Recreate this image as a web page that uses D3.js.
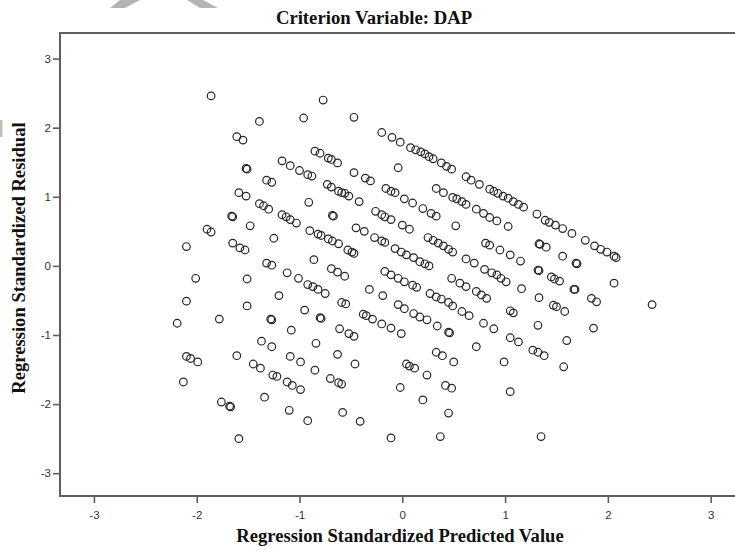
<!DOCTYPE html>
<html>
<head>
<meta charset="utf-8">
<script src="https://d3js.org/d3.v7.min.js"></script>
<style>
  html, body { margin: 0; padding: 0; background: #fff; }
  svg { display: block; }
</style>
</head>
<body>
<svg id="chart" width="735" height="552"></svg>
<script>
// ---- Data ----
const titleText = "Criterion Variable: DAP";
const xLabelText = "Regression Standardized Predicted Value";
const yLabelText = "Regression Standardized Residual";
const xTicks = [-3, -2, -1, 0, 1, 2, 3];
const yTicks = [-3, -2, -1, 0, 1, 2, 3];

const predicted = [
 -1.86,-1.39,-1.61,-1.55,-1.17,-1.09,-1.52,-1.51,-1.32,-1.27,-1.59,-1.52,-1.39,-1.35,-1.30,-1.17,-1.13,-1.09,-1.03,-1.66,
 -1.65,-1.48,-1.90,-1.86,-1.25,-2.10,-1.65,-1.58,-1.53,-1.32,-1.27,-1.12,-2.01,-1.51,-1.20,-2.10,-1.51,-2.19,-1.78,-1.28,
 -1.27,-1.08,-1.37,-1.27,-2.10,-2.06,-1.99,-1.61,-1.45,-1.38,-1.26,-1.22,-1.09,-1.12,-1.07,-2.13,-1.76,-1.68,-1.67,-1.34,
 -1.10,-1.59,
 -0.77,-0.96,-0.47,-0.20,-0.10,-0.02,0.08,-0.85,-0.80,-0.72,-0.69,-0.63,-0.04,-1.00,-0.92,-0.88,-0.47,-0.36,-0.31,-0.73,
 -0.69,-0.62,-0.59,-0.56,-0.52,-0.16,-0.11,-0.07,-0.42,-0.91,0.02,-0.68,-0.67,-0.26,-0.20,-0.17,-0.11,0.00,-0.45,-0.37,
 -0.90,-0.82,-0.79,-0.72,-0.68,-0.62,-0.27,-0.20,-0.17,0.07,-0.53,-0.49,-0.47,-0.07,-0.01,0.04,-0.86,-0.69,-0.63,-0.56,
 -1.01,-0.92,-0.87,-0.82,-0.75,-0.17,-0.11,-0.04,0.02,-0.32,-0.19,-0.59,-0.55,
 -0.95,-0.80,-0.79,-0.38,-0.35,-0.29,-0.20,-0.11,-0.01,-0.04,0.02,-0.61,-0.52,-0.47,-0.84,-0.99,-0.85,-0.63,-0.46,0.04,
 -0.99,-0.70,-0.62,-0.59,-0.02,-0.92,-0.58,-0.41,-0.11,
 0.13,0.18,0.22,0.26,0.30,0.38,0.43,0.48,0.62,0.67,0.75,0.85,0.89,0.93,0.98,1.03,1.08,1.13,1.18,0.33,
 0.40,0.49,0.53,0.58,0.62,0.10,0.20,0.28,0.33,0.72,0.79,0.85,0.92,1.03,0.52,0.25,0.30,0.35,0.40,0.45,
 0.49,0.81,0.85,0.95,1.05,1.15,0.11,0.17,0.22,0.26,0.62,0.70,0.80,0.87,0.92,0.96,1.01,1.16,0.10,0.14,
 0.48,0.56,0.62,0.72,0.77,0.82,0.27,0.33,0.38,0.45,0.49,
 0.11,0.17,0.24,0.58,0.65,0.79,0.89,1.05,1.08,1.05,1.13,0.34,0.45,0.46,0.72,0.33,0.39,0.50,0.99,0.07,
 0.12,0.24,0.42,0.48,1.05,0.20,0.45,0.37,
 1.31,1.39,1.43,1.49,1.56,1.65,1.78,1.87,1.93,1.99,2.06,2.08,1.33,1.34,1.40,1.56,1.69,1.70,1.32,1.33,
 1.45,1.48,1.53,2.06,1.67,1.68,1.33,1.47,1.50,1.58,1.84,1.89,2.43,1.32,1.86,1.60,1.27,1.32,1.38,1.57,
 1.35
];

const residual = [
 2.46,2.09,1.87,1.82,1.52,1.45,1.41,1.40,1.24,1.21,1.06,1.01,0.90,0.87,0.82,0.74,0.71,0.67,0.62,0.72,
 0.71,0.58,0.53,0.49,0.40,0.28,0.33,0.26,0.23,0.04,0.01,-0.10,-0.18,-0.19,-0.43,-0.51,-0.58,-0.83,-0.77,-0.77,
 -0.78,-0.93,-1.09,-1.17,-1.31,-1.34,-1.39,-1.30,-1.42,-1.48,-1.58,-1.60,-1.31,-1.68,-1.73,-1.68,-1.97,-2.03,-2.04,-1.90,
 -2.09,-2.50,
 2.40,2.14,2.15,1.93,1.86,1.79,1.71,1.66,1.63,1.56,1.54,1.49,1.42,1.38,1.32,1.30,1.35,1.27,1.23,1.18,
 1.14,1.08,1.06,1.05,1.01,1.12,1.08,1.06,0.93,0.92,0.97,0.73,0.72,0.79,0.74,0.71,0.67,0.59,0.55,0.50,
 0.51,0.46,0.44,0.39,0.36,0.32,0.41,0.36,0.34,0.53,0.23,0.20,0.18,0.25,0.20,0.16,0.09,-0.04,-0.09,-0.15,
 -0.18,-0.27,-0.30,-0.34,-0.40,-0.08,-0.13,-0.18,-0.23,-0.34,-0.43,-0.53,-0.55,
 -0.64,-0.75,-0.76,-0.70,-0.72,-0.77,-0.84,-0.90,-0.98,-0.56,-0.62,-0.91,-0.98,-1.02,-1.12,-1.39,-1.51,-1.28,-1.42,-1.42,
 -1.79,-1.63,-1.69,-1.71,-1.76,-2.24,-2.12,-2.25,-2.49,
 1.68,1.65,1.62,1.58,1.55,1.49,1.44,1.40,1.29,1.24,1.18,1.11,1.08,1.05,1.01,0.98,0.93,0.89,0.85,1.12,
 1.06,0.99,0.97,0.93,0.89,0.91,0.83,0.76,0.72,0.82,0.76,0.70,0.65,0.57,0.58,0.41,0.37,0.33,0.29,0.24,
 0.20,0.33,0.30,0.23,0.16,0.07,0.12,0.06,0.03,0.00,0.10,0.04,-0.05,-0.10,-0.13,-0.18,-0.23,-0.33,-0.28,-0.31,
 -0.18,-0.25,-0.30,-0.37,-0.42,-0.47,-0.40,-0.45,-0.48,-0.53,-0.58,
 -0.69,-0.74,-0.78,-0.66,-0.72,-0.83,-0.91,-0.65,-0.68,-1.04,-1.10,-0.87,-0.96,-0.97,-1.17,-1.25,-1.30,-1.39,-1.39,-1.45,
 -1.48,-1.58,-1.73,-1.77,-1.82,-1.94,-2.13,-2.47,
 0.75,0.66,0.63,0.59,0.54,0.47,0.37,0.29,0.24,0.20,0.14,0.12,0.32,0.31,0.27,0.14,0.04,0.03,-0.06,-0.07,
 -0.16,-0.19,-0.22,-0.25,-0.34,-0.34,-0.46,-0.57,-0.59,-0.66,-0.47,-0.52,-0.56,-0.86,-0.90,-1.08,-1.22,-1.25,-1.30,-1.46,
 -2.47
];

const points = predicted.map((v, i) => ({ px: v, py: residual[i] }));

// ---- Layout ----
const svg = d3.select("#chart");
const plotLeft = 60, plotTop = 33, plotBottom = 496, plotRight = 744.6;

const xScale = d3.scaleLinear().domain([-3.33, 3.33]).range([plotLeft, plotRight]);
const yScale = d3.scaleLinear().domain([-3.33, 3.37]).range([plotBottom, plotTop]);

const frameColor = "#5e5e5e";
const tickTextColor = "#333";

// decorative gray marks present at the top-left of the reference image
svg.append("polygon")
  .attr("points", "120,0 140,0 125,8 110,8")
  .attr("fill", "#b4b4b4");
svg.append("polygon")
  .attr("points", "187,0 203,0 218,8 200,8")
  .attr("fill", "#b4b4b4");
svg.append("rect")
  .attr("x", 0).attr("y", 120).attr("width", 2.5).attr("height", 17)
  .attr("fill", "#bdbdbd");

// axes
const fmt = d => d < 0 ? "-" + Math.abs(d) : String(d);
const xAxis = d3.axisBottom(xScale).tickValues(xTicks).tickSize(7).tickPadding(8).tickFormat(fmt);
const yAxis = d3.axisLeft(yScale).tickValues(yTicks).tickSize(7).tickPadding(2).tickFormat(fmt);

const gx = svg.append("g").attr("transform", `translate(0,${plotBottom})`).call(xAxis);
const gy = svg.append("g").attr("transform", `translate(${plotLeft},0)`).call(yAxis);

[gx, gy].forEach(g => {
  g.select(".domain").remove();
  g.selectAll(".tick line").attr("stroke", frameColor).attr("stroke-width", 1.6);
  g.selectAll(".tick text")
    .attr("fill", tickTextColor)
    .style("font-family", "'Liberation Sans', Arial, sans-serif")
    .style("font-size", "11.5px");
});

// frame
svg.append("rect")
  .attr("x", plotLeft).attr("y", plotTop)
  .attr("width", plotRight - plotLeft).attr("height", plotBottom - plotTop)
  .attr("fill", "none")
  .attr("stroke", frameColor)
  .attr("stroke-width", 2);

// points
svg.append("g")
  .selectAll("circle")
  .data(points)
  .join("circle")
  .attr("cx", d => xScale(d.px))
  .attr("cy", d => yScale(d.py))
  .attr("r", 3.8)
  .attr("fill", "none")
  .attr("stroke", "#262626")
  .attr("stroke-width", 1.2);

// texts
const serif = "'Liberation Serif', 'Times New Roman', serif";
svg.append("text")
  .attr("x", 374).attr("y", 24)
  .attr("text-anchor", "middle")
  .style("font-family", serif).style("font-weight", "bold").style("font-size", "18.7px")
  .attr("fill", "#111")
  .text(titleText);

svg.append("text")
  .attr("x", 400).attr("y", 542)
  .attr("text-anchor", "middle")
  .style("font-family", serif).style("font-weight", "bold").style("font-size", "18.6px")
  .attr("fill", "#111")
  .text(xLabelText);

svg.append("text")
  .attr("transform", "translate(25,258) rotate(-90)")
  .attr("text-anchor", "middle")
  .style("font-family", serif).style("font-weight", "bold").style("font-size", "18.6px")
  .attr("fill", "#111")
  .text(yLabelText);
</script>
</body>
</html>
